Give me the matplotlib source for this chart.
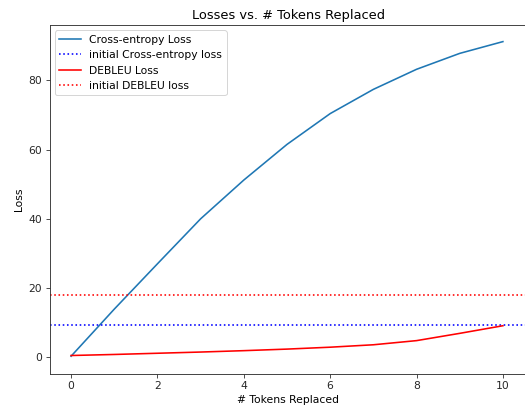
import matplotlib
matplotlib.use("Agg")
import matplotlib.pyplot as plt

tokens_replaced = [0, 1, 2, 3, 4, 5, 6, 7, 8, 9, 10]
ce_loss = [0.3, 13.9, 27.0, 40.0, 51.2, 61.5, 70.4, 77.4, 83.2, 87.8, 91.2]
debleu_loss = [0.5, 0.8, 1.15, 1.5, 1.9, 2.35, 2.9, 3.6, 4.8, 6.9, 9.1]
initial_ce = 9.4
initial_debleu = 18.0

W, H = 525, 409
fig = plt.figure(figsize=(W / 72, H / 72), dpi=72)
left, right, top, bottom = 49.5, 526.5, 25, 373.5
ax = fig.add_axes([left / W, (H - bottom) / H, (right - left) / W, (bottom - top) / H])

fs = 10.8
ax.plot(tokens_replaced, ce_loss, color="#1f77b4", lw=1.6, label="Cross-entropy Loss")
ax.axhline(initial_ce, color="blue", ls=":", lw=1.6, label="initial Cross-entropy loss")
ax.plot(tokens_replaced, debleu_loss, color="red", lw=1.6, label="DEBLEU Loss")
ax.axhline(initial_debleu, color="red", ls=":", lw=1.6, label="initial DEBLEU loss")

ax.set_xlim(-0.5, 10.5 + 2 / 43.2)
ax.set_ylim(-4.7, 96.0)
ax.set_xticks([0, 2, 4, 6, 8, 10])
ax.set_yticks([0, 20, 40, 60, 80])
ax.tick_params(labelsize=fs, colors="#262626", length=3.8)
for s in ax.spines.values():
    s.set_color("#333333")
    s.set_linewidth(0.9)

ax.set_title("Losses vs. # Tokens Replaced", fontsize=13)
ax.set_xlabel("# Tokens Replaced", fontsize=fs)
ax.set_ylabel("Loss", fontsize=fs)
ax.legend(loc="upper left", fontsize=fs)

fig.savefig("out.png", dpi=72)
